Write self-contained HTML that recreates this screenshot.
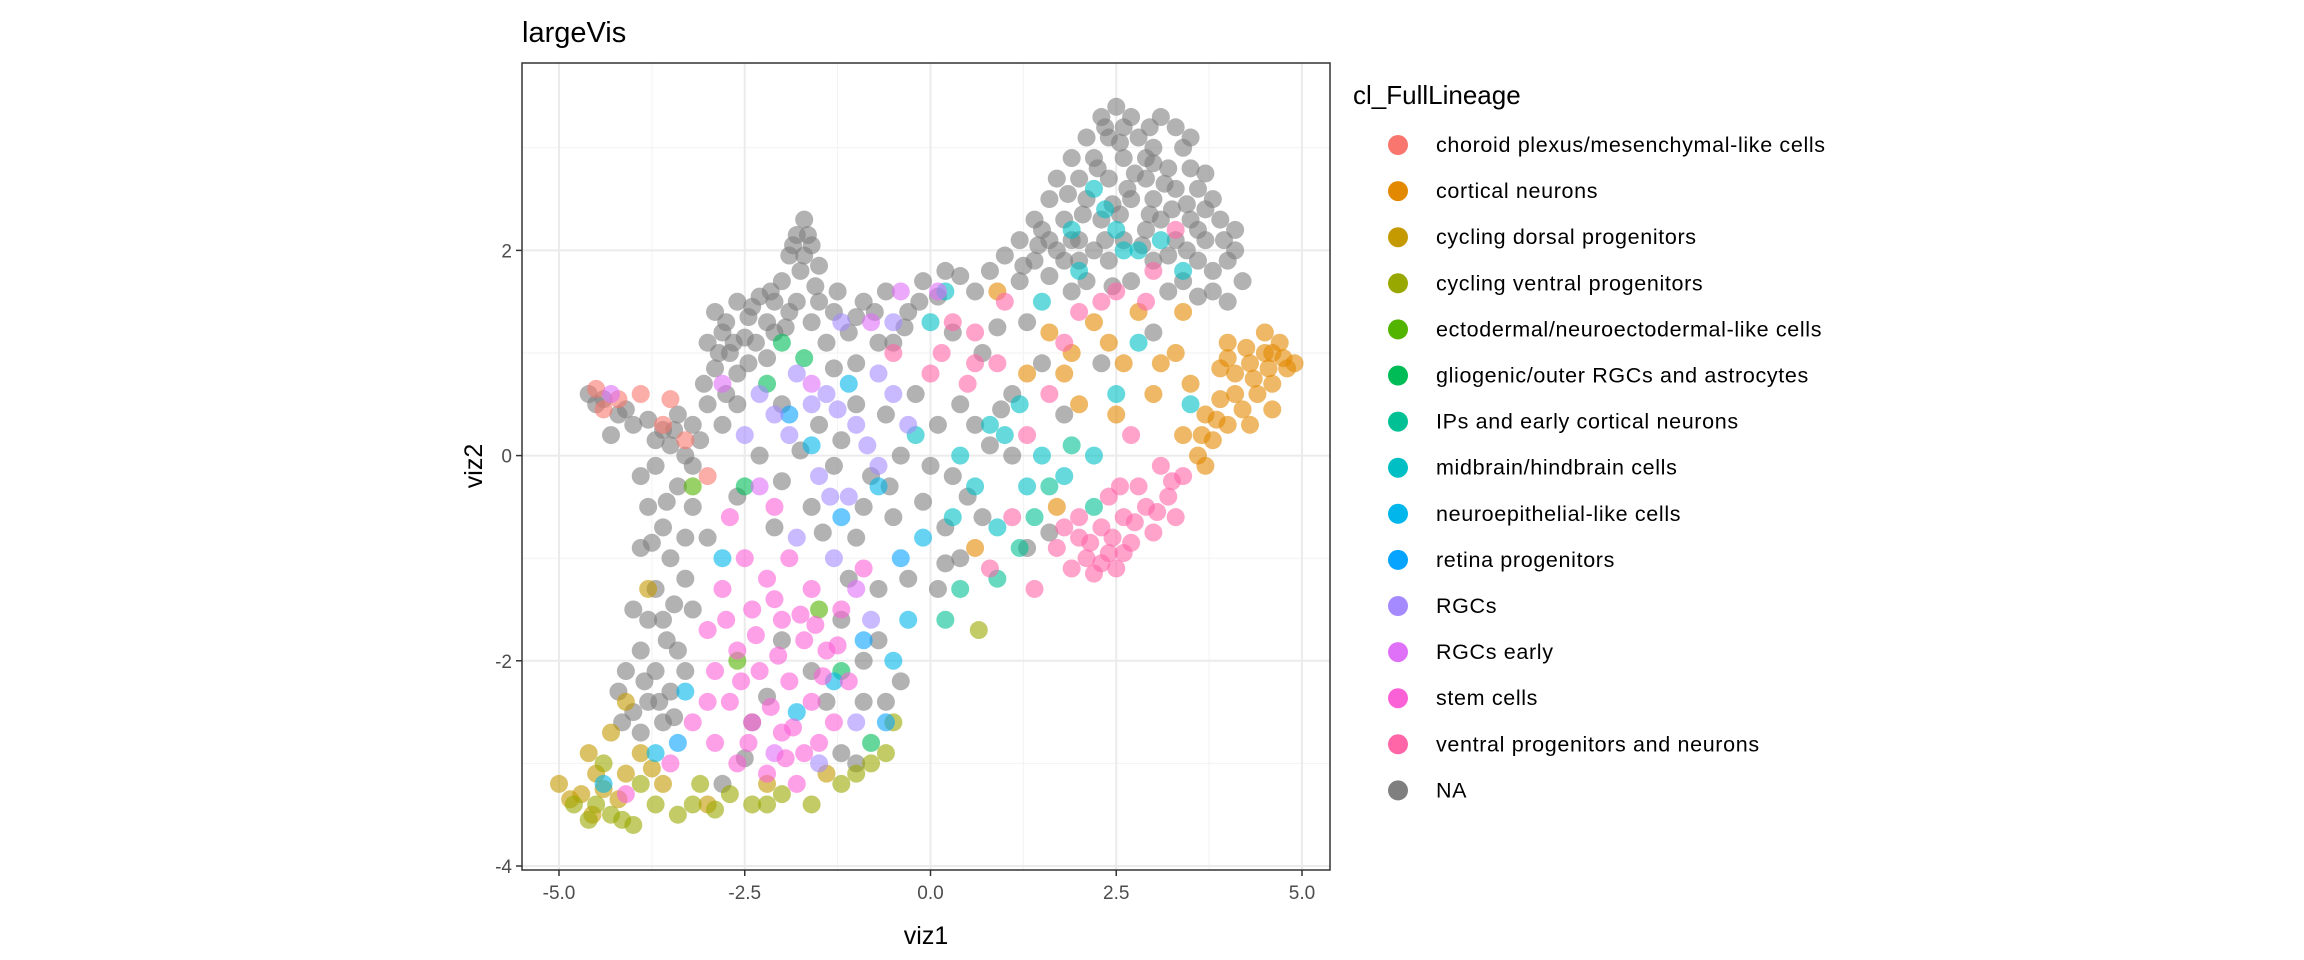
<!DOCTYPE html>
<html><head><meta charset="utf-8"><style>
html,body{margin:0;padding:0;background:#fff;}
svg{display:block;font-family:"Liberation Sans",sans-serif;}
</style></head><body>
<svg id="chart" width="2304" height="960" viewBox="0 0 2304 960">
<text x="522" y="42" font-size="29" fill="#000">largeVis</text>
<g id="grid"></g>
<g id="points"></g>
<rect x="522" y="63" width="808" height="807" fill="none" stroke="#333" stroke-width="1.5"/>
<g id="axes"></g>
<text x="926" y="944" font-size="25" text-anchor="middle" fill="#000">viz1</text>
<text transform="translate(482,466) rotate(-90)" font-size="25" text-anchor="middle" fill="#000">viz2</text>
<g id="legend">
<text x="1353" y="104" font-size="26" fill="#000">cl_FullLineage</text>
</g>
</svg>
<script>
const categories=["choroid plexus/mesenchymal-like cells","cortical neurons","cycling dorsal progenitors","cycling ventral progenitors","ectodermal/neuroectodermal-like cells","gliogenic/outer RGCs and astrocytes","IPs and early cortical neurons","midbrain/hindbrain cells","neuroepithelial-like cells","retina progenitors","RGCs","RGCs early","stem cells","ventral progenitors and neurons","NA"];
const colors=["#F8766D","#E38900","#C49A00","#99A800","#53B400","#00BC56","#00C094","#00BFC4","#00B6EB","#06A4FF","#A58AFF","#DF70F8","#FB61D7","#FF66A8","#7F7F7F"];
const xTicks=[-5,-2.5,0,2.5,5];
const xTickLabels=["-5.0","-2.5","0.0","2.5","5.0"];
const yTicks=[-4,-2,0,2];
const yTickLabels=["-4","-2","0","2"];
const ptsNA=[[2.5,3.4],[2.3,3.3],[2.7,3.3],[3.1,3.3],[3.3,3.2],[2.1,3.1],[2.4,3.1],[2.8,3.1],[3.0,3.0],[3.4,3.0],[1.9,2.9],[2.2,2.9],[2.6,2.9],[3.2,2.8],[3.5,2.8],[1.7,2.7],[2.0,2.7],[2.4,2.7],[2.9,2.7],[3.3,2.6],[3.6,2.6],[1.6,2.5],[2.1,2.5],[2.7,2.5],[3.0,2.5],[3.8,2.5],[1.4,2.3],[1.8,2.3],[2.3,2.3],[3.1,2.3],[3.5,2.3],[3.9,2.3],[1.2,2.1],[1.6,2.1],[2.0,2.1],[2.6,2.1],[3.3,2.1],[3.7,2.1],[4.1,2.2],[1.0,1.95],[1.4,1.9],[1.8,1.9],[2.4,1.9],[3.0,1.9],[3.6,1.9],[4.0,1.9],[4.2,1.7],[0.8,1.8],[1.2,1.7],[2.1,1.7],[3.8,1.6],[0.4,1.75],[0.6,1.6],[2.7,1.7],[3.4,1.7],[4.0,1.5],[1.5,2.2],[2.9,2.2],[1.7,2.0],[2.2,2.0],[2.6,3.2],[2.9,2.9],[3.6,2.2],[2.45,2.45],
[2.35,3.2],[2.55,3.05],[2.25,2.8],[2.75,2.75],[3.15,2.65],[3.45,2.45],[2.95,2.35],[2.55,2.35],[2.05,2.35],[1.85,2.55],[3.25,2.4],[3.7,2.4],[3.95,2.1],[3.45,2.0],[2.85,2.05],[2.35,2.1],[1.9,2.1],[1.45,2.05],[1.25,1.85],[1.6,1.75],[2.0,1.9],[3.2,1.95],[3.8,1.8],[4.1,2.0],[3.6,1.55],[3.2,1.6],[2.45,1.65],[1.9,1.6],[2.65,2.6],[3.0,2.85],[3.7,2.75],[3.5,3.1],[2.95,3.2],
[-1.7,2.3],[-1.8,2.15],[-1.6,2.05],[-1.9,1.95],[-1.5,1.85],[-1.75,1.8],[-2.0,1.7],[-1.55,1.65],[-2.3,1.55],[-2.1,1.5],[-1.8,1.5],[-2.6,1.5],[-2.9,1.4],[-2.45,1.35],[-2.2,1.3],[-1.6,1.3],[-1.3,1.4],[-2.8,1.2],[-2.5,1.15],[-1.1,1.2],[-3.0,1.1],[-2.7,1.0],[-1.4,1.1],[-0.9,1.5],[-0.6,1.6],[-2.9,0.85],[-2.6,0.8],[-1.0,0.9],[-0.5,1.1],[-0.3,1.4],[-0.1,1.7],[0.2,1.8],[-2.35,1.1],[-1.95,1.25],
[-1.65,2.15],[-1.85,2.05],[-1.7,1.95],[-2.15,1.6],[-2.4,1.45],[-1.9,1.4],[-2.75,1.3],[-2.1,1.2],[-2.65,1.1],[-2.2,0.95],[-2.45,0.9],[-2.85,1.0],[-1.5,1.5],[-1.25,1.6],[-1.0,1.35],[-0.75,1.4],[-0.35,1.25],[-0.15,1.5],[0.1,1.55],[-0.7,1.1],[-1.3,0.85],[-2.75,0.6],[-3.05,0.7],
[-4.6,0.6],[-4.4,0.55],[-4.2,0.4],[-4.0,0.3],[-3.8,0.35],[-3.6,0.25],[-3.4,0.4],[-3.2,0.3],[-3.0,0.5],[-3.5,0.1],[-3.3,0.0],[-3.7,-0.1],[-3.9,-0.2],[-3.1,0.15],[-2.8,0.3],[-2.6,0.5],[-4.3,0.2],[-3.4,-0.3],[-3.8,-0.5],[-3.6,-0.7],[-3.2,-0.5],[-3.0,-0.8],[-3.5,-1.0],[-3.9,-0.9],[-3.3,-1.2],[-3.7,-1.3],[-4.0,-1.5],[-3.6,-1.6],[-3.2,-1.5],[-3.4,-1.9],[-3.9,-1.9],[-3.7,-2.1],[-4.1,-2.1],[-3.5,-2.3],[-3.8,-2.4],[-4.0,-2.5],[-3.3,-2.1],[-3.6,-2.6],
[-4.5,0.5],[-4.1,0.45],[-3.7,0.15],[-3.45,0.25],[-3.2,-0.1],[-3.55,-0.45],[-3.3,-0.8],[-3.75,-0.85],[-3.45,-1.45],[-3.8,-1.6],[-3.55,-1.8],[-3.85,-2.2],[-4.2,-2.3],[-3.65,-2.4],[-3.9,-2.7],[-4.15,-2.6],[-3.45,-2.55],
[-2.0,0.5],[-1.5,0.3],[-1.0,0.5],[-0.6,0.4],[-0.2,0.6],[0.1,0.3],[0.4,0.5],[-0.4,0.0],[0.0,-0.1],[-0.8,-0.2],[-1.3,-0.1],[-2.3,0.0],[-2.6,-0.4],[-2.1,-0.7],[-1.6,-0.5],[-1.0,-0.8],[-0.5,-0.6],[0.2,-0.7],[0.5,-0.4],[0.8,0.1],[1.1,0.6],[0.7,1.0],[0.3,1.2],[-0.7,-1.3],[-1.2,-1.6],[-0.9,-2.0],[-0.6,-2.4],[-1.4,-2.4],[-2.0,-1.8],[-2.4,-2.6],[-2.8,-3.2],[-1.0,-3.0],[0.1,-1.3],[0.4,-1.0],[1.3,-0.9],[1.8,0.4],[2.3,0.9],[3.0,1.2],[1.3,1.3],
[-1.75,0.05],[-1.2,0.15],[-0.55,-0.3],[-0.1,-0.45],[0.3,-0.2],[0.6,0.3],[0.95,0.45],[-0.9,-0.5],[-1.45,-0.75],[-2.0,-0.25],[-0.3,-1.2],[0.2,-1.05],[-1.1,-1.2],[-0.7,-1.8],[-0.4,-2.2],[-1.6,-2.1],[-2.2,-2.35],[-1.2,-2.9],[-2.5,-2.95],[-0.9,-2.4],[0.7,-0.6],[1.6,-0.75],[1.1,0.0],[1.5,0.9],[0.9,1.25]];
const ptsChoroid=[[-4.5,0.65],[-4.2,0.55],[-4.4,0.45],[-3.9,0.6],[-3.5,0.55],[-3.3,0.15],[-3.0,-0.2],[-3.6,0.3]];
const ptsCortical=[[4.7,1.1],[4.5,1.0],[4.8,0.85],[4.3,0.9],[4.6,0.7],[4.1,0.8],[4.4,0.6],[4.2,0.45],[3.9,0.55],[4.0,0.3],[3.7,0.4],[3.8,0.15],[3.6,0.0],[4.3,0.3],[4.6,0.45],[4.9,0.9],[4.0,1.1],[3.5,0.7],[3.9,0.85],[4.5,1.2],[3.4,0.2],[3.7,-0.1],[1.6,1.2],[1.9,1.0],[2.2,1.3],[2.6,0.9],[3.0,0.6],[3.3,1.0],[2.8,1.4],[1.3,0.8],[2.0,0.5],[2.5,0.4],[1.7,-0.5],[0.9,1.6],[3.4,1.4],[0.6,-0.9],
[4.6,1.0],[4.35,0.75],[4.1,0.6],[3.85,0.35],[4.55,0.85],[4.25,1.05],[4.75,0.95],[3.65,0.2],[4.0,0.95],[2.4,1.1],[3.1,0.9],[1.8,0.8]];
const ptsCycDorsal=[[-5.0,-3.2],[-4.7,-3.3],[-4.5,-3.1],[-4.2,-3.35],[-4.6,-2.9],[-3.9,-2.9],[-4.3,-2.7],[-3.6,-3.2],[-3.0,-3.4],[-2.2,-3.2],[-1.4,-3.1],[-4.1,-2.4],[-3.8,-1.3],[-4.85,-3.35],[-4.4,-3.25],[-4.1,-3.1],[-3.75,-3.05],[-4.55,-3.5]];
const ptsCycVentral=[[-4.8,-3.4],[-4.6,-3.55],[-4.3,-3.5],[-4.0,-3.6],[-3.7,-3.4],[-3.4,-3.5],[-3.1,-3.2],[-2.7,-3.3],[-2.4,-3.4],[-2.0,-3.3],[-1.6,-3.4],[-1.2,-3.2],[-0.8,-3.0],[-0.6,-2.9],[-4.4,-3.0],[0.65,-1.7],[-0.5,-2.6],[-3.9,-3.2],[-4.5,-3.4],[-4.15,-3.55],[-3.2,-3.4],[-2.9,-3.45],[-2.2,-3.4],[-1.0,-3.1]];
const ptsEcto=[[-3.2,-0.3],[-2.6,-2.0],[-1.5,-1.5]];
const ptsGlio=[[-2.0,1.1],[-1.7,0.95],[-2.2,0.7],[-1.2,-2.1],[-0.8,-2.8],[-2.5,-0.3]];
const ptsIPs=[[1.4,-0.6],[1.6,-0.3],[1.2,-0.9],[0.9,-1.2],[0.4,-1.3],[0.2,-1.6],[1.9,0.1],[2.2,-0.5]];
const ptsMidbrain=[[2.2,2.6],[2.5,2.2],[2.8,2.0],[2.0,1.8],[1.5,1.5],[1.2,0.5],[0.8,0.3],[0.2,1.6],[0.0,1.3],[-0.2,0.2],[0.6,-0.3],[0.9,-0.7],[1.5,0.0],[2.2,0.0],[2.8,1.1],[3.4,1.8],[1.8,-0.2],[0.3,-0.6],[3.5,0.5],[2.35,2.4],[2.6,2.0],[1.9,2.2],[3.1,2.1],[1.0,0.2],[0.4,0.0],[1.3,-0.3],[2.5,0.6]];
const ptsNeuroepi=[[-1.1,0.7],[-0.7,-0.3],[-0.1,-0.8],[-0.3,-1.6],[-0.5,-2.0],[-1.3,-2.2],[-1.8,-2.5],[-3.7,-2.9],[-4.4,-3.2],[-3.3,-2.3],[-2.8,-1.0],[-1.6,0.1]];
const ptsRetina=[[-0.6,-2.6],[-0.9,-1.8],[-1.2,-0.6],[-3.4,-2.8],[-1.9,0.4],[-0.4,-1.0]];
const ptsRGCs=[[-2.3,0.6],[-1.8,0.8],[-1.4,0.6],[-1.0,0.3],[-0.7,0.8],[-1.9,0.2],[-1.5,-0.2],[-1.1,-0.4],[-0.7,-0.1],[-0.3,0.3],[-1.8,-0.8],[-1.3,-1.0],[-0.8,-1.6],[-1.0,-2.6],[-1.5,-3.0],[-2.5,0.2],[-0.5,1.3],[-1.2,1.3],[-2.1,0.4],[-1.6,0.5],[-1.25,0.45],[-0.85,0.1],[-1.35,-0.4],[-0.5,0.6]];
const ptsRGCsEarly=[[-2.8,0.7],[-1.6,0.7],[-0.8,1.3],[-0.4,1.6],[-4.3,0.6],[-2.3,-0.3],[-1.0,-1.3],[-2.1,-2.9],[0.1,1.6]];
const ptsStem=[[-2.5,-1.0],[-2.2,-1.2],[-1.9,-1.0],[-1.6,-1.3],[-2.4,-1.5],[-2.0,-1.6],[-1.7,-1.8],[-1.4,-1.9],[-2.6,-1.9],[-2.3,-2.1],[-1.9,-2.2],[-1.6,-2.4],[-2.7,-2.4],[-2.4,-2.6],[-2.0,-2.7],[-1.7,-2.9],[-1.3,-2.6],[-1.1,-2.2],[-2.9,-2.8],[-2.6,-3.0],[-2.2,-3.1],[-1.8,-3.2],[-3.2,-2.6],[-3.0,-1.7],[-2.8,-1.3],[-1.2,-1.5],[-0.9,-1.1],[-2.1,-0.5],[-2.7,-0.6],[-1.5,-2.8],[-3.5,-3.0],[-4.1,-3.3],
[-2.35,-1.75],[-2.05,-1.95],[-1.75,-1.55],[-2.15,-2.45],[-1.85,-2.65],[-2.55,-2.2],[-2.9,-2.1],[-1.45,-2.15],[-1.55,-1.65],[-2.45,-2.8],[-1.95,-2.95],[-2.75,-1.6],[-3.0,-2.4],[-1.25,-1.85],[-2.1,-1.4]];
const ptsVentral=[[2.0,-0.8],[2.3,-0.7],[2.6,-0.6],[2.9,-0.5],[3.2,-0.4],[3.4,-0.2],[2.1,-1.0],[2.4,-0.95],[2.7,-0.85],[3.0,-0.75],[2.2,-1.15],[1.9,-1.1],[2.5,-1.1],[3.3,-0.6],[2.8,-0.3],[1.7,-0.9],[2.4,-0.4],[3.1,-0.1],[0.3,1.3],[0.6,1.2],[0.9,0.9],[0.5,0.7],[1.3,0.2],[1.6,0.6],[2.0,1.4],[2.5,1.6],[3.0,1.8],[3.3,2.2],[2.7,0.2],[1.1,-0.6],[1.4,-1.3],[0.8,-1.1],[-0.5,1.0],[0.0,0.8],[1.0,1.5],
[2.15,-0.85],[2.45,-0.8],[2.75,-0.65],[3.05,-0.55],[2.3,-1.05],[2.6,-0.95],[2.0,-0.6],[2.55,-0.3],[3.25,-0.25],[1.8,-0.7],[0.6,0.9],[1.8,1.1],[2.3,1.5],[2.9,1.5],[0.15,1.0]];
const seriesPoints=[ptsChoroid,ptsCortical,ptsCycDorsal,ptsCycVentral,ptsEcto,ptsGlio,ptsIPs,ptsMidbrain,ptsNeuroepi,ptsRetina,ptsRGCs,ptsRGCsEarly,ptsStem,ptsVentral,ptsNA];

const NS="http://www.w3.org/2000/svg";
const X0=559,XU=74.3,Y0=455.6,YU=102.6;
function sx(v){return X0+(v+5)*XU;}
function sy(v){return Y0-v*YU;}
function mk(tag,attrs,parent){const e=document.createElementNS(NS,tag);for(const k in attrs)e.setAttribute(k,attrs[k]);parent.appendChild(e);return e;}
const grid=document.getElementById('grid');
mk('rect',{x:522,y:63,width:808,height:807,fill:'#fff'},grid);
for(let i=0;i<xTicks.length-1;i++){const m=(xTicks[i]+xTicks[i+1])/2;const l=mk('line',{x1:sx(m),x2:sx(m),y1:63,y2:870,stroke:'#F2F2F2','stroke-width':1},grid);

}
[-3,-1,1,3].forEach(v=>{const l=mk('line',{x1:522,x2:1330,y1:sy(v),y2:sy(v),stroke:'#F2F2F2','stroke-width':1},grid);

});
xTicks.forEach(v=>{const l=mk('line',{x1:sx(v),x2:sx(v),y1:63,y2:870,stroke:'#EBEBEB','stroke-width':2},grid);

});
yTicks.forEach(v=>{const l=mk('line',{x1:522,x2:1330,y1:sy(v),y2:sy(v),stroke:'#EBEBEB','stroke-width':2},grid);

});
const pg=document.getElementById('points');
const order=[14,0,1,2,3,4,5,6,7,8,9,10,11,12,13];
order.forEach(ci=>{seriesPoints[ci].forEach(p=>{const c=mk('circle',{cx:sx(p[0]),cy:sy(p[1]),r:9,fill:colors[ci],'fill-opacity':0.6},pg);

});});
const ax=document.getElementById('axes');
xTicks.forEach((v,i)=>{mk('line',{x1:sx(v),x2:sx(v),y1:870,y2:876,stroke:'#333','stroke-width':1.5},ax);
const t=mk('text',{x:sx(v),y:899,'font-size':19,'text-anchor':'middle',fill:'#4D4D4D'},ax);t.textContent=xTickLabels[i];

});
yTicks.forEach((v,i)=>{mk('line',{x1:516,x2:522,y1:sy(v),y2:sy(v),stroke:'#333','stroke-width':1.5},ax);
const t=mk('text',{x:512,y:sy(v)+7,'font-size':19,'text-anchor':'end',fill:'#4D4D4D'},ax);t.textContent=yTickLabels[i];

});
const lg=document.getElementById('legend');
categories.forEach((c,i)=>{const y=145+i*46.1;
const g=mk('g',{},lg);


mk('circle',{cx:1398,cy:y,r:10,fill:colors[i]},g);
const t=mk('text',{x:1436,y:y+7,'font-size':21.5,'letter-spacing':0.65,fill:'#000'},g);t.textContent=c;});
</script>
</body></html>
